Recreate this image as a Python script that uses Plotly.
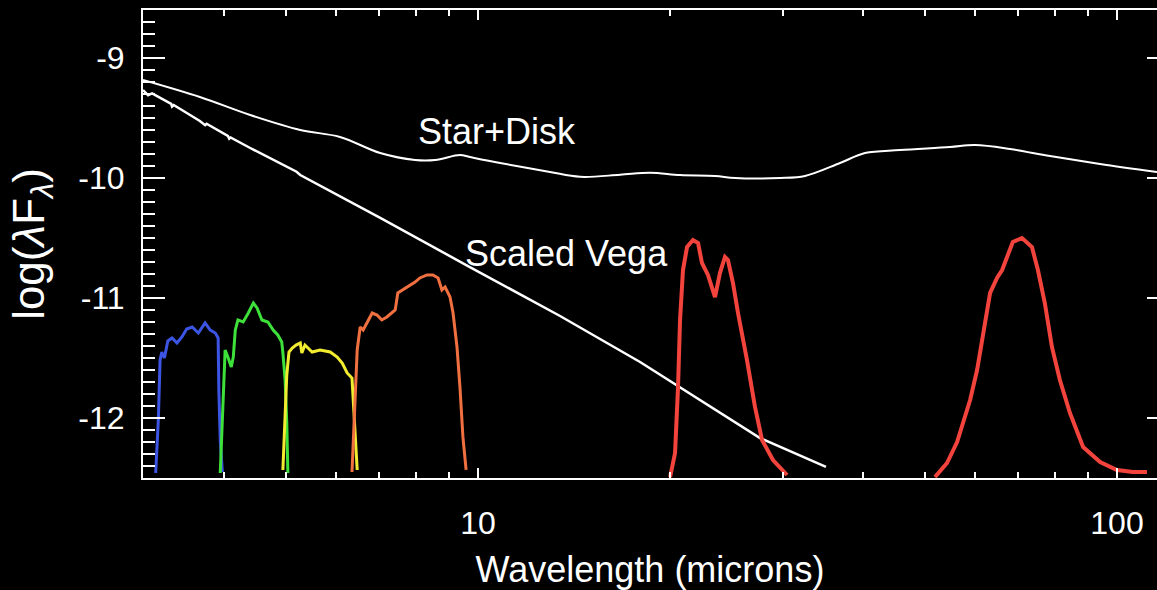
import plotly.graph_objects as go

# Wavelength in microns, log10(lambda * F_lambda) in cgs units
star_disk_wl = [2.99, 3.67, 4.40, 5.27, 6.08, 7.03, 7.97, 8.57, 9.37, 9.71, 10.83,
                12.96, 14.44, 16.68, 18.59, 20.71, 23.49, 25.25, 29.69, 32.49,
                36.86, 40.33, 45.76, 54.78, 59.95, 68.01, 78.55, 94.06, 115.5]
star_disk_flux = [-9.183, -9.325, -9.475, -9.600, -9.658, -9.792, -9.850, -9.850,
                  -9.808, -9.825, -9.875, -9.950, -9.990, -9.973, -9.956, -9.975,
                  -9.983, -10.000, -10.000, -9.983, -9.875, -9.792, -9.767, -9.742,
                  -9.725, -9.758, -9.817, -9.883, -9.950]

vega_wl = [2.99, 3.045, 3.09, 3.31, 3.32, 3.34, 3.67, 3.74, 3.76, 4.06, 4.08, 4.10,
           4.40, 5.20, 5.27, 7.03, 9.71, 13.44, 17.93, 27.63, 35.04]
vega_flux = [-9.267, -9.310, -9.295, -9.383, -9.405, -9.392, -9.525, -9.560, -9.548,
             -9.650, -9.672, -9.662, -9.750, -9.948, -9.975, -10.333, -10.742,
             -11.150, -11.533, -12.167, -12.408]

# Spitzer bandpasses scaled onto the flux axis
irac1_wl = [3.13, 3.16, 3.18, 3.20, 3.23, 3.27, 3.32, 3.38, 3.44, 3.50, 3.57, 3.65,
            3.74, 3.81, 3.88, 3.92, 3.93, 3.95, 3.98]
irac1_resp = [-12.458, -12.017, -11.517, -11.450, -11.500, -11.358, -11.333, -11.375,
              -11.325, -11.258, -11.242, -11.292, -11.208, -11.267, -11.292, -11.333,
              -11.767, -12.183, -12.450]

irac2_wl = [3.95, 3.98, 4.00, 4.02, 4.06, 4.11, 4.14, 4.17, 4.21, 4.29, 4.37, 4.45,
            4.51, 4.59, 4.69, 4.78, 4.86, 4.93, 4.95, 4.99, 5.02, 5.04]
irac2_resp = [-12.458, -12.042, -11.683, -11.433, -11.492, -11.575, -11.492, -11.267,
              -11.183, -11.200, -11.125, -11.042, -11.083, -11.183, -11.200, -11.267,
              -11.308, -11.367, -11.458, -11.683, -12.042, -12.458]

irac3_wl = [4.95, 4.99, 5.02, 5.06, 5.12, 5.19, 5.27, 5.30, 5.36, 5.50, 5.66, 5.87,
            6.02, 6.13, 6.24, 6.35, 6.37, 6.42, 6.47]
irac3_resp = [-12.433, -12.017, -11.642, -11.450, -11.417, -11.392, -11.375, -11.458,
              -11.392, -11.450, -11.433, -11.450, -11.492, -11.542, -11.625, -11.667,
              -11.792, -12.125, -12.433]

irac4_wl = [6.35, 6.42, 6.47, 6.54, 6.61, 6.70, 6.83, 6.95, 7.07, 7.20, 7.42, 7.49,
            7.63, 7.83, 7.97, 8.11, 8.32, 8.50, 8.66, 8.78, 8.88, 9.04, 9.14, 9.27,
            9.37, 9.47, 9.58]
irac4_resp = [-12.450, -11.792, -11.433, -11.242, -11.267, -11.208, -11.125, -11.142,
              -11.183, -11.158, -11.100, -10.958, -10.933, -10.892, -10.867, -10.833,
              -10.808, -10.808, -10.833, -10.933, -10.908, -10.992, -11.125, -11.408,
              -11.742, -12.158, -12.433]

mips24_wl = [19.98, 20.34, 20.56, 20.71, 20.93, 21.24, 21.70, 22.10, 22.41, 22.90,
             23.49, 23.91, 24.35, 24.61, 25.06, 25.52, 26.36, 27.13, 27.83, 28.95, 30.45]
mips24_resp = [-12.492, -12.292, -11.742, -11.183, -10.767, -10.575, -10.517, -10.542,
               -10.708, -10.808, -10.992, -10.792, -10.658, -10.683, -10.875, -11.125,
               -11.517, -11.908, -12.183, -12.350, -12.475]

mips70_wl = [51.9, 54.2, 56.2, 57.2, 58.9, 60.4, 61.7, 63.3, 64.9, 66.1, 67.3, 68.7,
             71.0, 73.6, 75.2, 77.1, 79.1, 81.4, 84.4, 88.5, 94.1, 100.0, 105.9, 111.4]
mips70_resp = [-12.492, -12.375, -12.200, -12.075, -11.850, -11.600, -11.325, -10.958,
               -10.833, -10.767, -10.658, -10.533, -10.500, -10.575, -10.767, -11.042,
               -11.408, -11.683, -11.958, -12.242, -12.367, -12.433, -12.450, -12.450]

band_colors = ["#3c55e4", "#3ee03a", "#f2ec30", "#f07040", "#f2443c", "#f2443c"]

x_major = [10, 100]
x_major_text = ["10", "100"]
x_minor = [3, 4, 5, 6, 7, 8, 9, 20, 30, 40, 50, 60, 70, 80, 90]
y_major = [-12, -11, -10, -9]
y_major_text = ["-12", "-11", "-10", "-9"]

X_RANGE = [0.4757, 2.0626]
Y_RANGE = [-12.5, -8.6]

FONT = "Liberation Sans, Arial, Helvetica, sans-serif"

fig = go.Figure()

fig.add_trace(go.Scatter(x=star_disk_wl, y=star_disk_flux, mode="lines",
                         line=dict(color="white", width=2), line_shape="spline"))
fig.add_trace(go.Scatter(x=vega_wl, y=vega_flux, mode="lines",
                         line=dict(color="white", width=2.5)))

bands = [(irac1_wl, irac1_resp, 3), (irac2_wl, irac2_resp, 3),
         (irac3_wl, irac3_resp, 3), (irac4_wl, irac4_resp, 3),
         (mips24_wl, mips24_resp, 4), (mips70_wl, mips70_resp, 4)]
for (wl, resp, w), c in zip(bands, band_colors):
    fig.add_trace(go.Scatter(x=wl, y=resp, mode="lines",
                             line=dict(color=c, width=w)))

# empty trace that carries the top/right tick axes
fig.add_trace(go.Scatter(x=[], y=[], xaxis="x2", yaxis="y2", showlegend=False))

fig.add_annotation(x=1.0297, y=-9.61, xref="x", yref="y", text="Star+Disk",
                   showarrow=False, font=dict(family=FONT, size=36, color="white"))
fig.add_annotation(x=1.139, y=-10.625, xref="x", yref="y", text="Scaled Vega",
                   showarrow=False, font=dict(family=FONT, size=36, color="white"))

tick_common = dict(ticks="inside", tickcolor="white", tickwidth=2, showgrid=False,
                   zeroline=False, tickfont=dict(family=FONT, size=32, color="white"))

fig.update_layout(
    width=1157, height=590, showlegend=False,
    paper_bgcolor="black", plot_bgcolor="black",
    margin=dict(l=143, r=0, t=10, b=112),
    xaxis=dict(type="log", range=X_RANGE, tickmode="array",
               tickvals=x_major, ticktext=x_major_text, ticklen=10,
               ticklabelstandoff=16, showline=True, linecolor="white",
               linewidth=2, mirror=True,
               minor=dict(tickmode="array", tickvals=x_minor, ticks="inside",
                          ticklen=6, tickwidth=2, tickcolor="white"),
               title=dict(text="Wavelength (microns)", standoff=20,
                          font=dict(family=FONT, size=36, color="white")),
               **tick_common),
    yaxis=dict(range=Y_RANGE, tickmode="array", tickvals=y_major,
               ticktext=y_major_text, ticklen=22, ticklabelstandoff=10,
               showline=True, linecolor="white", linewidth=2, mirror=False,
               minor=dict(dtick=0.1, ticks="inside", ticklen=12, tickwidth=2,
                          tickcolor="white"),
               title=dict(text="log(<i>λ</i>F<sub><i>λ</i></sub>)", standoff=20,
                          font=dict(family=FONT, size=44, color="white")),
               **tick_common),
    xaxis2=dict(type="log", range=X_RANGE, overlaying="x", side="top",
                anchor="y2", tickmode="array", tickvals=x_major, ticklen=10,
                showticklabels=False, showline=False,
                minor=dict(tickmode="array", tickvals=x_minor, ticks="inside",
                           ticklen=6, tickwidth=2, tickcolor="white"),
                **tick_common),
    yaxis2=dict(range=Y_RANGE, overlaying="y", side="right", anchor="x2",
                tickmode="array", tickvals=y_major, ticklen=10,
                showticklabels=False, showline=False,
                **tick_common),
)

fig.write_html("out.html")
